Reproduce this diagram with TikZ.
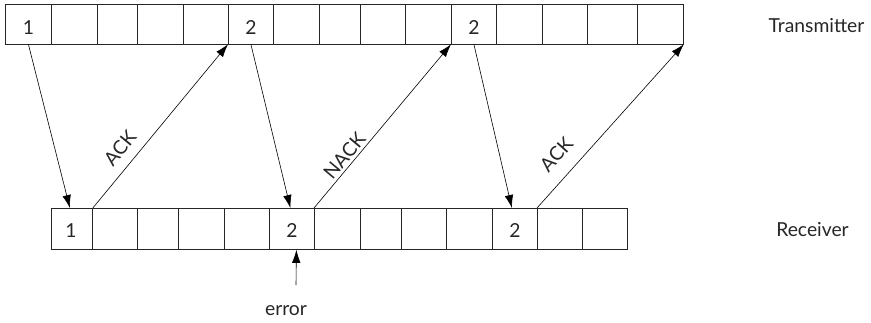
\documentclass[tikz,border=0pt]{standalone}
\usepackage{fontspec}
\setmainfont{Lato}
\usetikzlibrary{arrows.meta,calc}
\begin{document}
\begin{tikzpicture}[x=1pt,y=-1pt,
  cellbox/.style={draw=black!85, line width=0.8pt, inner sep=0pt, anchor=north west},
  lbl/.style={font=\fontsize{19.3}{22}\selectfont, text=black!85, inner sep=1pt},
  arr/.style={-{Latex[length=13pt,width=8.5pt]}, line width=0.6pt, black}]
\useasboundingbox (0,0) rectangle (871,322);
% transmitter row
\foreach \i/\a/\b in {1/5/51,2/51/97,3/97/137,4/137/183,5/183/228,6/228/273,7/273/319,8/319/360,9/360/405,10/405/451,11/451/496,12/496/542,13/542/587,14/587/637,15/637/683}
  \node[cellbox, minimum width={(\b-\a)*1pt}, minimum height=39.5pt] (t\i) at (\a,4) {};
% receiver row
\foreach \i/\a/\b in {1/51/92,2/92/137,3/137/178,4/178/224,5/224/269,6/269/314,7/314/360,8/360/401,9/401/446,10/446/492,11/492/537,12/537/582,13/582/627}
  \node[cellbox, minimum width={(\b-\a)*1pt}, minimum height=41pt] (r\i) at (\a,208) {};
% numbers
\node[lbl, anchor=base] (n1) at ($(t1.south)+(0,-9.5)$) {1};
\node[lbl, anchor=base] (n2) at ($(t6.south)+(0,-9.5)$) {2};
\node[lbl, anchor=base] (n3) at ($(t11.south)+(0,-9.5)$) {2};
\node[lbl, anchor=base] (m1) at ($(r1.south)+(-1,-12)$) {1};
\node[lbl, anchor=base] (m2) at ($(r6.south)+(0,-12)$) {2};
\node[lbl, anchor=base] (m3) at ($(r11.south)+(0,-12)$) {2};
% side labels
\node[lbl, anchor=base] (tx) at (816.5,32) {Transmitter};
\node[lbl, anchor=base] (rx) at (812.5,236) {Receiver};
% frames
\draw[arr] (t1.south) -- ([xshift=-2pt]r1.north);
\draw[arr] (t6.south) -- ([xshift=-1.5pt]r6.north);
\draw[arr] (t11.south) -- ([xshift=-3pt]r11.north);
% acknowledgements
\draw[arr] (r1.north east) -- node[lbl, sloped, above=9pt, pos=0.30] {ACK} (t6.south west);
\draw[arr] (r7.north west) -- node[lbl, sloped, above=2pt, pos=0.28] {NACK} (t11.south west);
\draw[arr] (r12.north west) -- node[lbl, sloped, above=13pt, pos=0.24] {ACK} (t15.south east);
% error
\node[lbl, anchor=base] (err) at (286,315) {error};
\coordinate (errtail) at (296,285);
\draw[arr] (errtail) -- ([xshift=4.5pt]r6.south);
\end{tikzpicture}
\end{document}
